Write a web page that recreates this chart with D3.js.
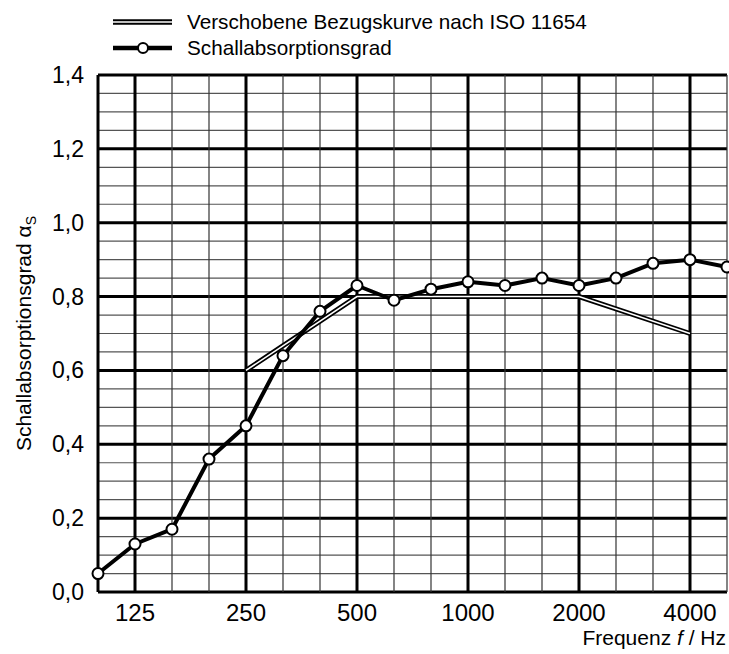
<!DOCTYPE html>
<html>
<head>
<meta charset="utf-8">
<script src="https://cdn.jsdelivr.net/npm/d3@7"></script>
<style>
  body { margin: 0; background: #fff; }
  text { font-family: "Liberation Sans", Arial, sans-serif; fill: #000; }
</style>
</head>
<body>
<svg id="chart" width="729" height="654"></svg>
<script>
// third-octave band centre frequencies
const bands = [100, 125, 160, 200, 250, 315, 400, 500, 630, 800, 1000, 1250, 1600, 2000, 2500, 3150, 4000, 5000];
const tickLabels = [125, 250, 500, 1000, 2000, 4000];

// measured absorption coefficient
const alphaS = [0.05, 0.13, 0.17, 0.36, 0.45, 0.64, 0.76, 0.83, 0.79, 0.82, 0.84, 0.83, 0.85, 0.83, 0.85, 0.89, 0.90, 0.88];

// shifted reference curve (ISO 11654), octave bands
const refFreq = [250, 500, 1000, 2000, 4000];
const refValues = [0.60, 0.80, 0.80, 0.80, 0.70];

const svg = d3.select('#chart');
const margin = { left: 98, right: 2, top: 75, bottom: 62 };
const width = 729 - margin.left - margin.right;
const height = 654 - margin.top - margin.bottom;

// band index scale (bands equally spaced, like a log axis)
const x = d3.scaleLinear().domain([0, bands.length - 1]).range([margin.left, margin.left + width]);
const xf = (f) => x(bands.indexOf(f));
const y = d3.scaleLinear().domain([0, 1.4]).range([margin.top + height, margin.top]);

const g = svg.append('g');
const isMajorY = (d) => Math.round(d * 100) % 20 === 0;
const isMajorX = (d) => tickLabels.includes(d) || d === 100;

// horizontal grid
g.selectAll('line.hgrid')
  .data(d3.range(0, 1.4001, 0.05))
  .enter().append('line')
  .attr('x1', margin.left).attr('x2', margin.left + width)
  .attr('y1', (d) => y(d)).attr('y2', (d) => y(d))
  .attr('stroke', (d) => (isMajorY(d) ? '#000' : '#555'))
  .attr('stroke-width', (d) => (isMajorY(d) ? 3 : 1.2));

// vertical grid
g.selectAll('line.vgrid')
  .data(bands)
  .enter().append('line')
  .attr('y1', margin.top).attr('y2', margin.top + height)
  .attr('x1', (d) => xf(d)).attr('x2', (d) => xf(d))
  .attr('stroke', (d) => (isMajorX(d) ? '#000' : '#333'))
  .attr('stroke-width', (d) => (isMajorX(d) ? 3 : 1.2));

// y tick labels
g.selectAll('text.ytick')
  .data(d3.range(0, 1.4001, 0.2))
  .enter().append('text')
  .attr('x', margin.left - 14)
  .attr('y', (d) => y(d) + 8)
  .attr('text-anchor', 'end')
  .attr('font-size', 23)
  .text((d) => d.toFixed(1).replace('.', ','));

// x tick labels
g.selectAll('text.xtick')
  .data(tickLabels)
  .enter().append('text')
  .attr('x', (d) => xf(d))
  .attr('y', 621)
  .attr('text-anchor', 'middle')
  .attr('font-size', 24)
  .text((d) => d);

// axis titles
const xt = svg.append('text')
  .attr('x', 726).attr('y', 645)
  .attr('text-anchor', 'end')
  .attr('font-size', 21);
xt.append('tspan').text('Frequenz ');
xt.append('tspan').attr('font-style', 'italic').text('f');
xt.append('tspan').text(' / Hz');

const yt = svg.append('text')
  .attr('transform', `translate(31, ${y(0.7)}) rotate(-90)`)
  .attr('text-anchor', 'middle')
  .attr('font-size', 21);
yt.append('tspan').text('Schallabsorptionsgrad α');
yt.append('tspan').attr('font-size', 14).attr('dy', 5).text('S');

// reference curve, double line
const refLine = d3.line().x((d, i) => xf(refFreq[i])).y((d) => y(d));
g.append('path').datum(refValues).attr('d', refLine)
  .attr('fill', 'none').attr('stroke', '#000').attr('stroke-width', 5);
g.append('path').datum(refValues).attr('d', refLine)
  .attr('fill', 'none').attr('stroke', '#fff').attr('stroke-width', 1.6);

// measured curve
const line = d3.line().x((d, i) => x(i)).y((d) => y(d));
g.append('path').datum(alphaS).attr('d', line)
  .attr('fill', 'none').attr('stroke', '#000').attr('stroke-width', 4)
  .attr('stroke-linejoin', 'round');
g.selectAll('circle.pt')
  .data(alphaS)
  .enter().append('circle')
  .attr('cx', (d, i) => x(i)).attr('cy', (d) => y(d))
  .attr('r', 5.5)
  .attr('fill', '#fff').attr('stroke', '#000').attr('stroke-width', 2);

// legend
const leg = svg.append('g');
leg.append('line').attr('x1', 113).attr('x2', 172).attr('y1', 22).attr('y2', 22)
  .attr('stroke', '#000').attr('stroke-width', 5.5);
leg.append('line').attr('x1', 113).attr('x2', 172).attr('y1', 22).attr('y2', 22)
  .attr('stroke', '#fff').attr('stroke-width', 1.6);
leg.append('text').attr('x', 187).attr('y', 29).attr('font-size', 20.7)
  .text('Verschobene Bezugskurve nach ISO 11654');
leg.append('line').attr('x1', 113).attr('x2', 172).attr('y1', 48).attr('y2', 48)
  .attr('stroke', '#000').attr('stroke-width', 4.5);
leg.append('circle').attr('cx', 143).attr('cy', 48).attr('r', 5)
  .attr('fill', '#fff').attr('stroke', '#000').attr('stroke-width', 2);
leg.append('text').attr('x', 187).attr('y', 55).attr('font-size', 20.7)
  .text('Schallabsorptionsgrad');
</script>
</body>
</html>
